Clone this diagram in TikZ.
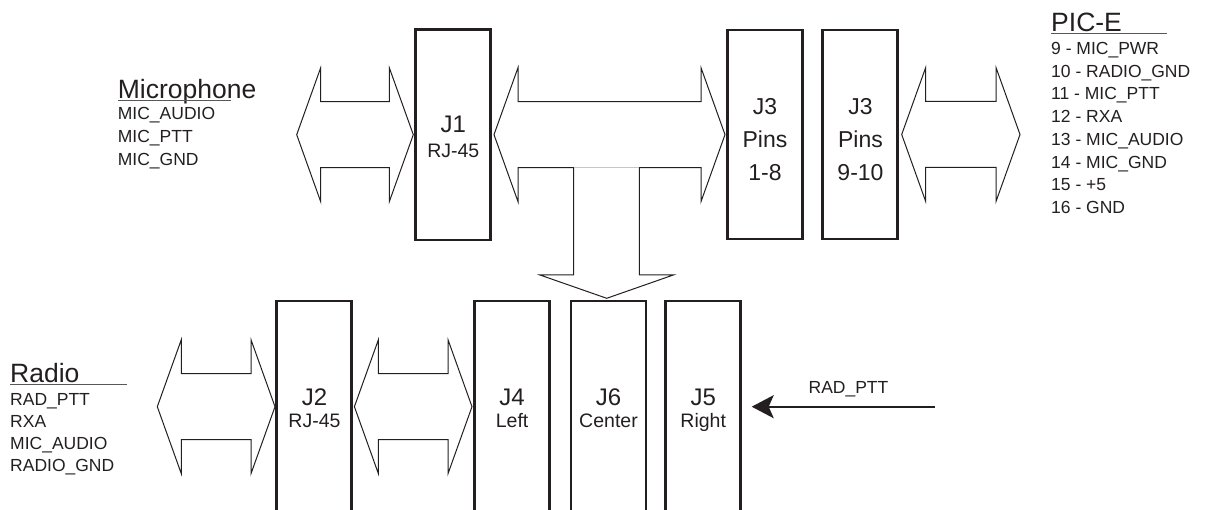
\documentclass[tikz,border=0pt]{standalone}
\usepackage{fontspec}
\setmainfont{Liberation Sans}
\usetikzlibrary{arrows.meta,calc}
\definecolor{ink}{HTML}{231F20}
\tikzset{
  box/.style={draw=ink, line width=2.6pt, inner sep=0pt, outer sep=0pt, anchor=north west, minimum width=75pt},
  fatline/.style={draw=ink, line width=1pt, line join=miter},
  title/.style={anchor=base west, inner sep=0pt, text=ink, font=\fontsize{26.5}{30}\selectfont},
  lst/.style={anchor=base west, inner sep=0pt, text=ink, font=\fontsize{17.5}{20}\selectfont},
  jlab/.style={anchor=base, inner sep=0pt, text=ink, font=\fontsize{24}{28}\selectfont},
  jsub/.style={anchor=base, inner sep=0pt, text=ink, font=\fontsize{19.5}{22}\selectfont},
  jpin/.style={anchor=base, inner sep=0pt, text=ink, font=\fontsize{23}{26}\selectfont},
  uline/.style={draw=ink!75, line width=1pt},
}
\newcommand\fatdbl[2]{%
  \draw[fatline] let \p1=(#1), \p2=(#2) in
    (\p1) -- (\x1+24pt,\y1+67pt) -- (\x1+24pt,\y1+33pt) -- (\x2-24pt,\y1+33pt)
    -- (\x2-24pt,\y1+67pt) -- (\x2,\y1) -- (\x2-24pt,\y1-67pt) -- (\x2-24pt,\y1-33pt)
    -- (\x1+24pt,\y1-33pt) -- (\x1+24pt,\y1-67pt) -- cycle;}
\begin{document}
\begin{tikzpicture}[x=1pt,y=-1pt]
\useasboundingbox (0,0) rectangle (1208,510);
\clip (0,0) rectangle (1208,510);

% boxes
\node[box, minimum height=210.7pt] (J1)  at (415.7,29.3) {};
\node[box, minimum height=209pt]   (J3a) at (727.7,30) {};
\node[box, minimum height=209pt]   (J3b) at (822.7,30) {};
\node[box, minimum height=230pt]   (J2)  at (276.7,301) {};
\node[box, minimum height=230pt]   (J4)  at (474.6,301) {};
\node[box, minimum height=230pt]   (J6)  at (571,301) {};
\node[box, minimum height=230pt]   (J5)  at (665.7,301) {};

% box labels
\node[jlab] (l1a) at (453.3,132.6) {J1};
\node[jsub] (l1b) at (453.3,157.7) {RJ-45};
\node[jpin] (l3a) at (765,114.2) {J3};
\node[jpin] (l3b) at (765,147.2) {Pins};
\node[jpin] (l3c) at (765,180.2) {1-8};
\node[jpin] (l4a) at (860.5,114.2) {J3};
\node[jpin] (l4b) at (860.5,147.2) {Pins};
\node[jpin] (l4c) at (860.5,180.2) {9-10};
\node[jlab] (l2a) at (314.5,405.6) {J2};
\node[jsub] (l2b) at (314.5,428) {RJ-45};
\node[jlab] (l5a) at (512.1,405.6) {J4};
\node[jsub] (l5b) at (512.1,428) {Left};
\node[jlab] (l6a) at (608.5,405.6) {J6};
\node[jsub] (l6b) at (608.5,428) {Center};
\node[jlab] (l7a) at (703.2,405.6) {J5};
\node[jsub] (l7b) at (703.2,428) {Right};

% fat arrows, top row
\coordinate (mtip) at (296.7,134.7);
\coordinate (ptip) at (1020,134.7);
\coordinate (j1w) at ($(J1.west)+(-2.4pt,0pt)$);
\coordinate (j1e) at ($(J1.east)+(3.3pt,0pt)$);
\coordinate (j3w) at ($(J3a.west)+(-2.7pt,0pt)$);
\coordinate (j3e) at ($(J3b.east)+(4pt,0pt)$);
\fatdbl{mtip}{j1w}
\fatdbl{j3e}{ptip}
\draw[fatline] let \p1=(j1e), \p2=(j3w) in
  (\p1) -- (\x1+24pt,\y1+67pt) -- (\x1+24pt,\y1+33pt) -- (\x2-24pt,\y1+33pt)
  -- (\x2-24pt,\y1+67pt) -- (\x2,\y1) -- (\x2-24pt,\y1-67pt) -- (\x2-24pt,\y1-33pt)
  -- (639.3pt,\y1-33pt) -- (639.3pt,-275pt) -- (673.3pt,-275pt) -- (606.7pt,-298.3pt)
  -- (540pt,-275pt) -- (573.7pt,-275pt) -- (573.7pt,\y1-33pt)
  -- (\x1+24pt,\y1-33pt) -- (\x1+24pt,\y1-67pt) -- cycle;
\draw[gray!45, line width=0.8pt] let \p1=(j1e) in (573.7pt,\y1-33pt) -- (639.3pt,\y1-33pt);

% fat arrows, bottom row
\coordinate (rtip) at (157.3,406.7);
\coordinate (j2w) at ($(J2.west |- rtip)+(-1.7pt,0pt)$);
\coordinate (j2e) at ($(J2.east |- rtip)+(2.7pt,0pt)$);
\coordinate (j4w) at ($(J4.west |- rtip)+(-2.6pt,0pt)$);
\fatdbl{rtip}{j2w}
\fatdbl{j2e}{j4w}

% RAD_PTT arrow
\coordinate (radsrc) at (935,406.7);
\draw[draw=ink, line width=2pt, -{Stealth[length=22pt,width=23pt,inset=5pt]}]
  (radsrc) -- ($(J5.east |- radsrc)+(11pt,0pt)$);
\node[lst, anchor=base] (radlbl) at (848.5,393.3) {RAD\_PTT};

% Microphone
\node[title] (mic) at (117.7,98.5) {Microphone};
\draw[uline] (118,101) -- (231,101);
\node[lst] (m1) at (117.7,119.3) {MIC\_AUDIO};
\node[lst] (m2) at (117.7,142.3) {MIC\_PTT};
\node[lst] (m3) at (117.7,165.3) {MIC\_GND};

% PIC-E
\node[title] (pic) at (1051,31.5) {PIC-E};
\draw[uline] (1051,34) -- (1167,34);
\node[lst] (p1) at (1051,54.3) {9 - MIC\_PWR};
\node[lst] (p2) at (1051,77.05) {10 - RADIO\_GND};
\node[lst] (p3) at (1051,99.8) {11 - MIC\_PTT};
\node[lst] (p4) at (1051,122.55) {12 - RXA};
\node[lst] (p5) at (1051,145.3) {13 - MIC\_AUDIO};
\node[lst] (p6) at (1051,168.05) {14 - MIC\_GND};
\node[lst] (p7) at (1051,190.8) {15 - +5};
\node[lst] (p8) at (1051,213.55) {16 - GND};

% Radio
\node[title] (rad) at (10,382.5) {Radio};
\draw[uline] (10,384.5) -- (127,384.5);
\node[lst] (r1) at (10,405.3) {RAD\_PTT};
\node[lst] (r2) at (10,427.3) {RXA};
\node[lst] (r3) at (10,449.3) {MIC\_AUDIO};
\node[lst] (r4) at (10,471.3) {RADIO\_GND};
\end{tikzpicture}
\end{document}
